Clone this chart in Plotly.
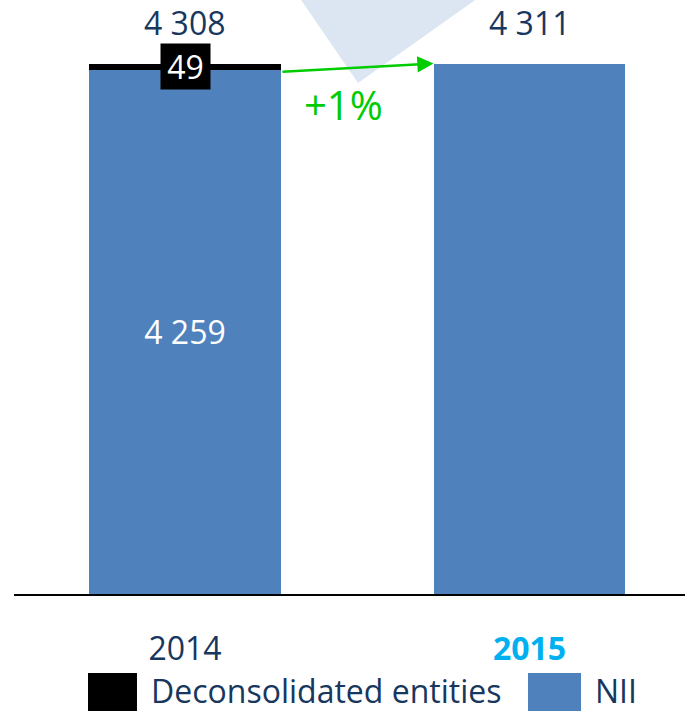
import plotly.graph_objects as go

# ---- data ----
years = ["2014", "2015"]
nii = [4259, 4311]
deconsolidated = [49, 0]
totals = [4308, 4311]
growth_label = "+1%"
series_names = ["Deconsolidated entities", "NII"]

NAVY = "#17375e"
BLUE = "#4f81bd"
GREEN = "#00cc00"
CYAN = "#00b0f0"
FONT = "Open Sans"


def fmt(v):
    return f"{v:,}".replace(",", " ")


x = list(range(len(years)))
W = 0.557

fig = go.Figure()
fig.add_bar(
    x=x, y=nii, name=series_names[1], marker=dict(color=BLUE, line=dict(width=0)),
    width=W, text=[fmt(nii[0]), ""], textposition="inside", insidetextanchor="middle",
    textfont=dict(color="white", size=32, family=FONT), textangle=0,
    constraintext="none", showlegend=False,
)
fig.add_bar(
    x=x, y=deconsolidated, name=series_names[0],
    marker=dict(color="black", line=dict(width=0)), width=W, showlegend=False,
)

ann = []
# totals above bars
for i, t in enumerate(totals):
    ann.append(dict(x=x[i], y=t, xref="x", yref="y", text=fmt(t), showarrow=False,
                    yanchor="middle", yshift=41,
                    font=dict(size=32, color=NAVY, family=FONT)))
# deconsolidated value box
ann.append(dict(x=x[0], y=nii[0] + deconsolidated[0] / 2, xref="x", yref="y",
                text=str(deconsolidated[0]), showarrow=False, bgcolor="black",
                width=47, height=43, borderpad=1,
                font=dict(size=32, color="white", family=FONT)))
# growth arrow
ann.append(dict(x=x[1] - W / 2, y=totals[1], ax=x[0] + W / 2, ay=nii[0] - 15,
                xref="x", yref="y", axref="x", ayref="y", text="", showarrow=True,
                arrowhead=2, arrowsize=1.3, arrowwidth=2.5, arrowcolor=GREEN, standoff=0))
ann.append(dict(x=0.46, y=3974, xref="x", yref="y", text=growth_label, showarrow=False,
                font=dict(size=40, color=GREEN, family=FONT)))

# legend (manual, large swatches)
ann.append(dict(x=0.2012, y=-0.162, xref="paper", yref="paper", xanchor="left",
                yanchor="middle", text=series_names[0], showarrow=False,
                font=dict(size=32, color=NAVY, family=FONT)))
ann.append(dict(x=0.8629, y=-0.162, xref="paper", yref="paper", xanchor="left",
                yanchor="middle", text=series_names[1], showarrow=False,
                font=dict(size=32, color=NAVY, family=FONT)))

shapes = [
    dict(type="path", xref="paper", yref="paper",
         path="M 0.4158,1.02 L 0.5127,0.8603 L 0.7124,1.02 Z",
         fillcolor="#dce6f2", line=dict(width=0), layer="below"),
    dict(type="rect", xref="paper", yref="paper", x0=0.1103, x1=0.1833,
         y0=-0.133, y1=-0.25, fillcolor="black", line=dict(width=0)),
    dict(type="rect", xref="paper", yref="paper", x0=0.766, x1=0.845,
         y0=-0.133, y1=-0.25, fillcolor=BLUE, line=dict(width=0)),
]

ticktext = [years[0], f"<b><span style='color:{CYAN}'>{years[1]}</span></b>"]

fig.update_layout(
    width=685, height=711, barmode="stack",
    margin=dict(l=14, r=0, t=0, b=117),
    plot_bgcolor="white", paper_bgcolor="white",
    annotations=ann, shapes=shapes, showlegend=False,
    font=dict(family=FONT, color=NAVY),
    xaxis=dict(range=[-0.4964, 1.4514], tickvals=x, ticktext=ticktext,
               showline=True, linecolor="black", linewidth=2, showgrid=False,
               zeroline=False, ticks="", ticklabelstandoff=26,
               tickfont=dict(size=32, color=NAVY, family=FONT), fixedrange=True),
    yaxis=dict(range=[0, 4827], visible=False, fixedrange=True),
)

fig.write_html("out.html", config={"displayModeBar": False},
               post_script="document.body.style.margin='0';document.body.style.overflow='hidden';")
